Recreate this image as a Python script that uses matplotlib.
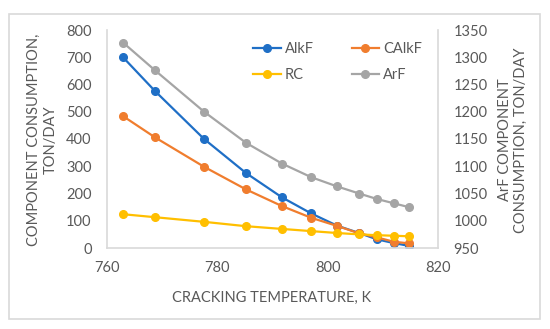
import matplotlib
matplotlib.use('Agg')
import matplotlib.pyplot as plt
from matplotlib.patches import Rectangle

plt.rcParams['font.family'] = ['Lato', 'DejaVu Sans']

# 数据
temp = [762.9, 768.7, 777.6, 785.2, 791.7, 797.0, 801.7, 805.7, 808.9, 812.0, 814.7]
alkf = [700, 576, 400, 275, 186, 127, 82, 55, 32, 18, 8]
calkf = [484, 406, 298, 215, 154, 111, 81, 54, 39, 23, 17]
rc = [124, 113, 96, 80, 70, 62, 55, 50, 47, 45, 43]
arf = [1327, 1276, 1200, 1143, 1105, 1080, 1063, 1050, 1040, 1032, 1025]

txt = '#595959'
spine = '#d9d9d9'
fs = 10.5

fig = plt.figure(figsize=(5.5, 3.29), dpi=100)
fig.patches.append(Rectangle((9 / 550, 1 - 319 / 329), 531 / 550, 305 / 329,
                             transform=fig.transFigure, fill=False,
                             edgecolor=spine, linewidth=1.2))

ax = fig.add_axes([107 / 550, 1 - 248 / 329, 331 / 550, 218 / 329])
ax2 = ax.twinx()

style = dict(marker='o', markersize=5.5, linewidth=1.6)
l1, = ax.plot(temp, alkf, color='#1f6fc6', label='AlkF', **style)
l2, = ax.plot(temp, calkf, color='#f07d2e', label='CAlkF', **style)
l3, = ax.plot(temp, rc, color='#ffbf00', label='RC', **style)
l4, = ax2.plot(temp, arf, color='#a5a5a5', label='ArF', **style)

ax.set_xlim(760, 820)
ax.set_xticks([760, 780, 800, 820])
ax.set_ylim(0, 800)
ax.set_yticks(range(0, 801, 100))
ax2.set_ylim(950, 1350)
ax2.set_yticks(range(950, 1351, 50))

for a in (ax, ax2):
    for s in a.spines.values():
        s.set_visible(False)
    a.tick_params(length=0, labelsize=fs, colors=txt, pad=11)
ax.tick_params(axis='x', pad=9)
ax.spines['left'].set_visible(True)
ax.spines['bottom'].set_visible(True)
ax2.spines['right'].set_visible(True)
for s in (ax.spines['left'], ax.spines['bottom'], ax2.spines['right']):
    s.set_color(spine)
    s.set_linewidth(1.2)

fig.text(42 / 550, 1 - 140 / 329, 'COMPONENT CONSUMPTION,\nTON/DAY', rotation=90,
         ha='center', va='center', fontsize=fs, color=txt, linespacing=1.25)
fig.text(513 / 550, 1 - 140 / 329, 'ArF COMPONENT\nCONSUMPTION, TON/DAY', rotation=90,
         ha='center', va='center', fontsize=fs, color=txt, linespacing=1.25)
fig.text(272 / 550, 1 - 298 / 329, 'CRACKING TEMPERATURE, K',
         ha='center', va='center', fontsize=fs, color=txt)

leg = ax2.legend(handles=[l1, l3, l2, l4], ncol=2, frameon=False, fontsize=fs,
                 loc='upper left', bbox_to_anchor=(246 / 550, 1 - 35 / 329),
                 bbox_transform=fig.transFigure, borderpad=0,
                 handlelength=1.9, handletextpad=0.25, columnspacing=2.6,
                 labelspacing=0.8)
for t in leg.get_texts():
    t.set_color(txt)

fig.savefig('out.png', dpi=100)
